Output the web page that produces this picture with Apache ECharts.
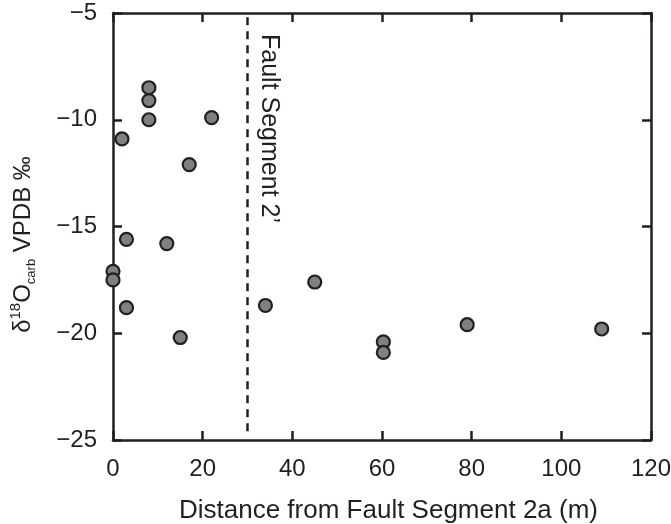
<!DOCTYPE html>
<html style="height: 100%">
<head>
    <meta charset="utf-8">
</head>
<body style="height: 100%; margin: 0; background-color: #fff">
<div id="container" style="height: 524px; width: 671px"></div>
<script type="text/javascript" src="https://cdn.jsdelivr.net/npm/echarts@6/dist/echarts.min.js"></script>
<script type="text/javascript">
    // distance from fault segment 2a (m) and d18O carb (per mil VPDB)
    var distance = [0, 0, 2, 3, 3, 8, 8, 8, 12, 15, 17, 22, 34, 45, 60.3, 60.3, 79, 109];
    var d18O = [-17.1, -17.5, -10.9, -15.6, -18.8, -8.5, -9.1, -10.0, -15.8, -20.2, -12.1, -9.9, -18.7, -17.6, -20.4, -20.9, -19.6, -19.8];
    var faultX = 30;
    var faultLabel = 'Fault Segment 2\u2019';

    var points = distance.map(function (d, i) { return [d, d18O[i]]; });

    var dom = document.getElementById('container');
    var myChart = echarts.init(dom);
    var ink = '#231f20';
    var font = 'Liberation Sans';

    function minus(v) { return String(v).replace('-', '\u2212'); }

    var axisCommon = {
        axisLine: { show: true, onZero: false, lineStyle: { color: ink, width: 2.5 } },
        axisTick: { show: true, inside: true, length: 9, lineStyle: { color: ink, width: 2.5 } },
        splitLine: { show: false }
    };

    var option = {
        animation: false,
        grid: { left: 113, top: 13, right: 20, bottom: 84, outerBoundsMode: 'none', containLabel: false },
        xAxis: [
            Object.assign({
                type: 'value', min: 0, max: 120, interval: 20, position: 'bottom',
                name: 'Distance from Fault Segment 2a (m)',
                nameLocation: 'middle', nameGap: 58,
                nameTextStyle: { fontFamily: font, fontSize: 26, color: ink, padding: [0, 0, 0, 13] },
                axisLabel: { margin: 17, fontFamily: font, fontSize: 24, color: ink }
            }, axisCommon),
            Object.assign({
                type: 'value', min: 0, max: 120, interval: 20, position: 'top',
                axisLabel: { show: false }
            }, axisCommon)
        ],
        yAxis: [
            Object.assign({
                type: 'value', min: -25, max: -5, interval: 5, position: 'left',
                name: '{t|\u03b4}{sup|18}{t|O}{sub|carb}{t| VPDB \u2030}',
                nameLocation: 'middle', nameGap: 75, nameRotate: 90,
                nameTextStyle: {
                    fontFamily: font, fontSize: 24, color: ink,
                    padding: [0, 36, 0, 0],
                    rich: {
                        t: { fontFamily: font, fontSize: 24, color: ink, lineHeight: 30, verticalAlign: 'middle' },
                        sup: { fontFamily: font, fontSize: 15, color: ink, lineHeight: 30, verticalAlign: 'top' },
                        sub: { fontFamily: font, fontSize: 13, color: ink, lineHeight: 30, verticalAlign: 'bottom' }
                    }
                },
                axisLabel: {
                    margin: 16, fontFamily: font, fontSize: 24, color: ink,
                    formatter: minus
                }
            }, axisCommon),
            Object.assign({
                type: 'value', min: -25, max: -5, interval: 5, position: 'right',
                axisLabel: { show: false }
            }, axisCommon)
        ],
        series: [{
            type: 'scatter',
            xAxisIndex: 0,
            yAxisIndex: 0,
            data: points,
            symbol: 'circle',
            symbolSize: 13,
            itemStyle: { color: '#808080', borderColor: ink, borderWidth: 2.2, opacity: 1 },
            markLine: {
                silent: true,
                symbol: 'none',
                label: { show: false },
                lineStyle: { color: ink, width: 2.5, type: [8, 6] },
                data: [[{ coord: [faultX, -5.2] }, { coord: [faultX, -24.8] }]]
            }
        }]
    };

    myChart.setOption(option);

    var p = myChart.convertToPixel({ xAxisIndex: 0, yAxisIndex: 0 }, [faultX, -5]);
    myChart.setOption({
        graphic: [{
            type: 'text',
            x: p[0] + 21,
            y: p[1] + 21,
            rotation: -Math.PI / 2,
            style: {
                text: faultLabel,
                fontFamily: font,
                fontSize: 25,
                fill: ink,
                align: 'left',
                verticalAlign: 'middle'
            }
        }]
    });
</script>
</body>
</html>
